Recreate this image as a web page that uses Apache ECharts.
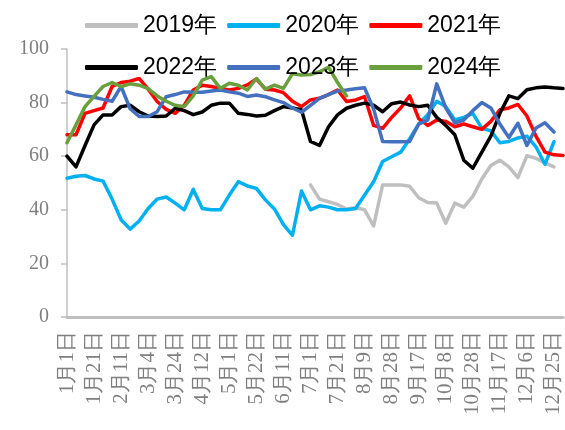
<!DOCTYPE html>
<html><head><meta charset="utf-8">
<script src="https://cdn.jsdelivr.net/npm/echarts@6/dist/echarts.min.js"></script>
<style>html,body{margin:0;padding:0;background:#fff}#c{width:565px;height:430px}</style>
</head><body><div id="c"></div>
<script>
const categories = ['1月1日','1月8日','1月14日','1月21日','1月28日','2月4日','2月11日','2月18日','2月25日','3月4日','3月11日','3月17日','3月24日','3月31日','4月6日','4月12日','4月18日','4月25日','5月1日','5月8日','5月15日','5月22日','5月29日','6月4日','6月11日','6月18日','6月24日','7月1日','7月8日','7月14日','7月21日','7月28日','8月3日','8月9日','8月15日','8月22日','8月28日','9月4日','9月10日','9月17日','9月24日','10月1日','10月8日','10月15日','10月21日','10月28日','11月4日','11月10日','11月17日','11月24日','11月30日','12月6日','12月12日','12月19日','12月25日','12月31日'];
const legendRow1 = ['2019年','2020年','2021年'];
const legendRow2 = ['2022年','2023年','2024年'];
const s2019 = [null,null,null,null,null,null,null,null,null,null,null,null,null,null,null,null,null,null,null,null,null,null,null,null,null,null,null,
  49.3,44,43,42,40.3,40.8,40,34,49.3,49.3,49.3,48.8,44.5,42.7,42.5,35,42.5,41,45,51.5,56.5,58.5,56,52,60.2,59.2,57.5,56,null];
const s2020 = [51.8,52.5,52.8,51.5,50.7,44,36.3,32.8,35.8,40.5,44,44.8,42.5,40,47.6,40.5,40,40,45.5,50.5,48.9,48,43.7,40.3,34.5,30.5,47,40,41.5,41,40,40,40.5,45.5,50.5,58,59.8,61.5,66.5,72,75.5,80.5,78.5,73.5,74.5,76,70.4,69.5,65,65.5,66.8,67.5,63.5,57,65.4,null];
const s2021 = [68,68,76,77,78,86,87.5,88,89,85,80.4,77.5,76,79,84.7,86.5,86,85.3,84.7,85.3,86.6,88.8,85,84.7,83.7,80.5,78.5,81,81.6,83,84.7,80.4,81,82.2,71.5,70.4,74.5,78,82.5,74,71.5,73.5,73,71,72,71,70,73,77.3,78,79.3,75,67.5,61.5,60.5,60.3];
const s2022 = [60,56,64,71.7,75.4,75.4,78.5,79,76.6,75,74.8,75,77.9,77,75.5,76.5,79,79.8,79.8,76,75.6,75,75.3,77,78.5,78,77.3,65.5,64,71,75.4,77.9,79,79.8,79,76.6,79.6,80.2,79.1,78.5,79,74.5,71.5,68,58.5,55.5,61.5,67.5,76,82.5,81.5,84.8,85.5,85.8,85.5,85.3];
const s2023 = [84,83,82.5,82,81.2,80.5,86,77.7,74.8,74.8,76.6,82.2,83,84,83.9,83.9,84.3,84.7,84,83.5,82.3,82.8,82.2,81,80,78,76.4,79,81.6,83,84.3,84.7,85.2,85.5,77.6,65.5,65.4,65.4,65.5,72,73.5,87,78,72.4,73.5,77,80,78,72,67,72.3,64,70.5,72.5,69,null];
const s2024 = [65,71.7,78.5,82.3,86,87.5,86,87,86.5,85.2,82.5,80.5,79,78.5,82.5,88.4,89.7,85.3,87.2,86.5,84.7,89,85,86.5,85.3,90.8,90.3,90.5,91.5,93.2,87.5,82.5,null,null,null,null,null,null,null,null,null,null,null,null,null,null,null,null,null,null,null,null,null,null,null,null];

const names = legendRow1.concat(legendRow2);
const dataSets = [s2019, s2020, s2021, s2022, s2023, s2024];
const colors = ['#BFBFBF','#00B0F0','#FF0000','#000000','#4470C0','#6A9F3E'];

const chart = echarts.init(document.getElementById('c'), null, {renderer: 'canvas'});
const legendBase = {
  left: 80, itemWidth: 53, itemHeight: 5, itemGap: 10, icon: 'roundRect',
  selectedMode: false,
  textStyle: {fontSize: 23, color: '#000', fontFamily: "'Liberation Sans', Arial, sans-serif", padding: [0,0,0,0]}
};
chart.setOption({
  animation: false,
  backgroundColor: '#fff',
  color: colors,
  legend: [
    Object.assign({}, legendBase, {top: 9, data: legendRow1}),
    Object.assign({}, legendBase, {top: 51, data: legendRow2})
  ],
  grid: {left: 67, right: 2, top: 49, bottom: 113, containLabel: false},
  xAxis: {
    type: 'category', data: categories, boundaryGap: false,
    axisLine: {lineStyle: {color: '#BFBFBF', width: 3}},
    axisTick: {show: false},
    axisLabel: {interval: 2, rotate: 90, margin: 14, color: '#7F7F7F', fontSize: 21,
      fontFamily: "'Liberation Serif', 'Times New Roman', serif"},
    splitLine: {show: false}
  },
  yAxis: {
    type: 'value', min: 0, max: 100, interval: 20,
    axisLine: {show: true, lineStyle: {color: '#BFBFBF', width: 1.5}},
    axisTick: {show: true, length: 6, lineStyle: {color: '#BFBFBF', width: 1.5}},
    axisLabel: {margin: 18, color: '#7F7F7F', fontSize: 20,
      fontFamily: "'Liberation Serif', 'Times New Roman', serif"},
    splitLine: {show: false}
  },
  series: names.map((n, k) => ({
    name: n, type: 'line', data: dataSets[k], showSymbol: false, symbol: 'none',
    connectNulls: false, smooth: false,
    lineStyle: {width: 3.5, color: colors[k], join: 'round', cap: 'round'},
    itemStyle: {color: colors[k]}
  }))
});
</script></body></html>
